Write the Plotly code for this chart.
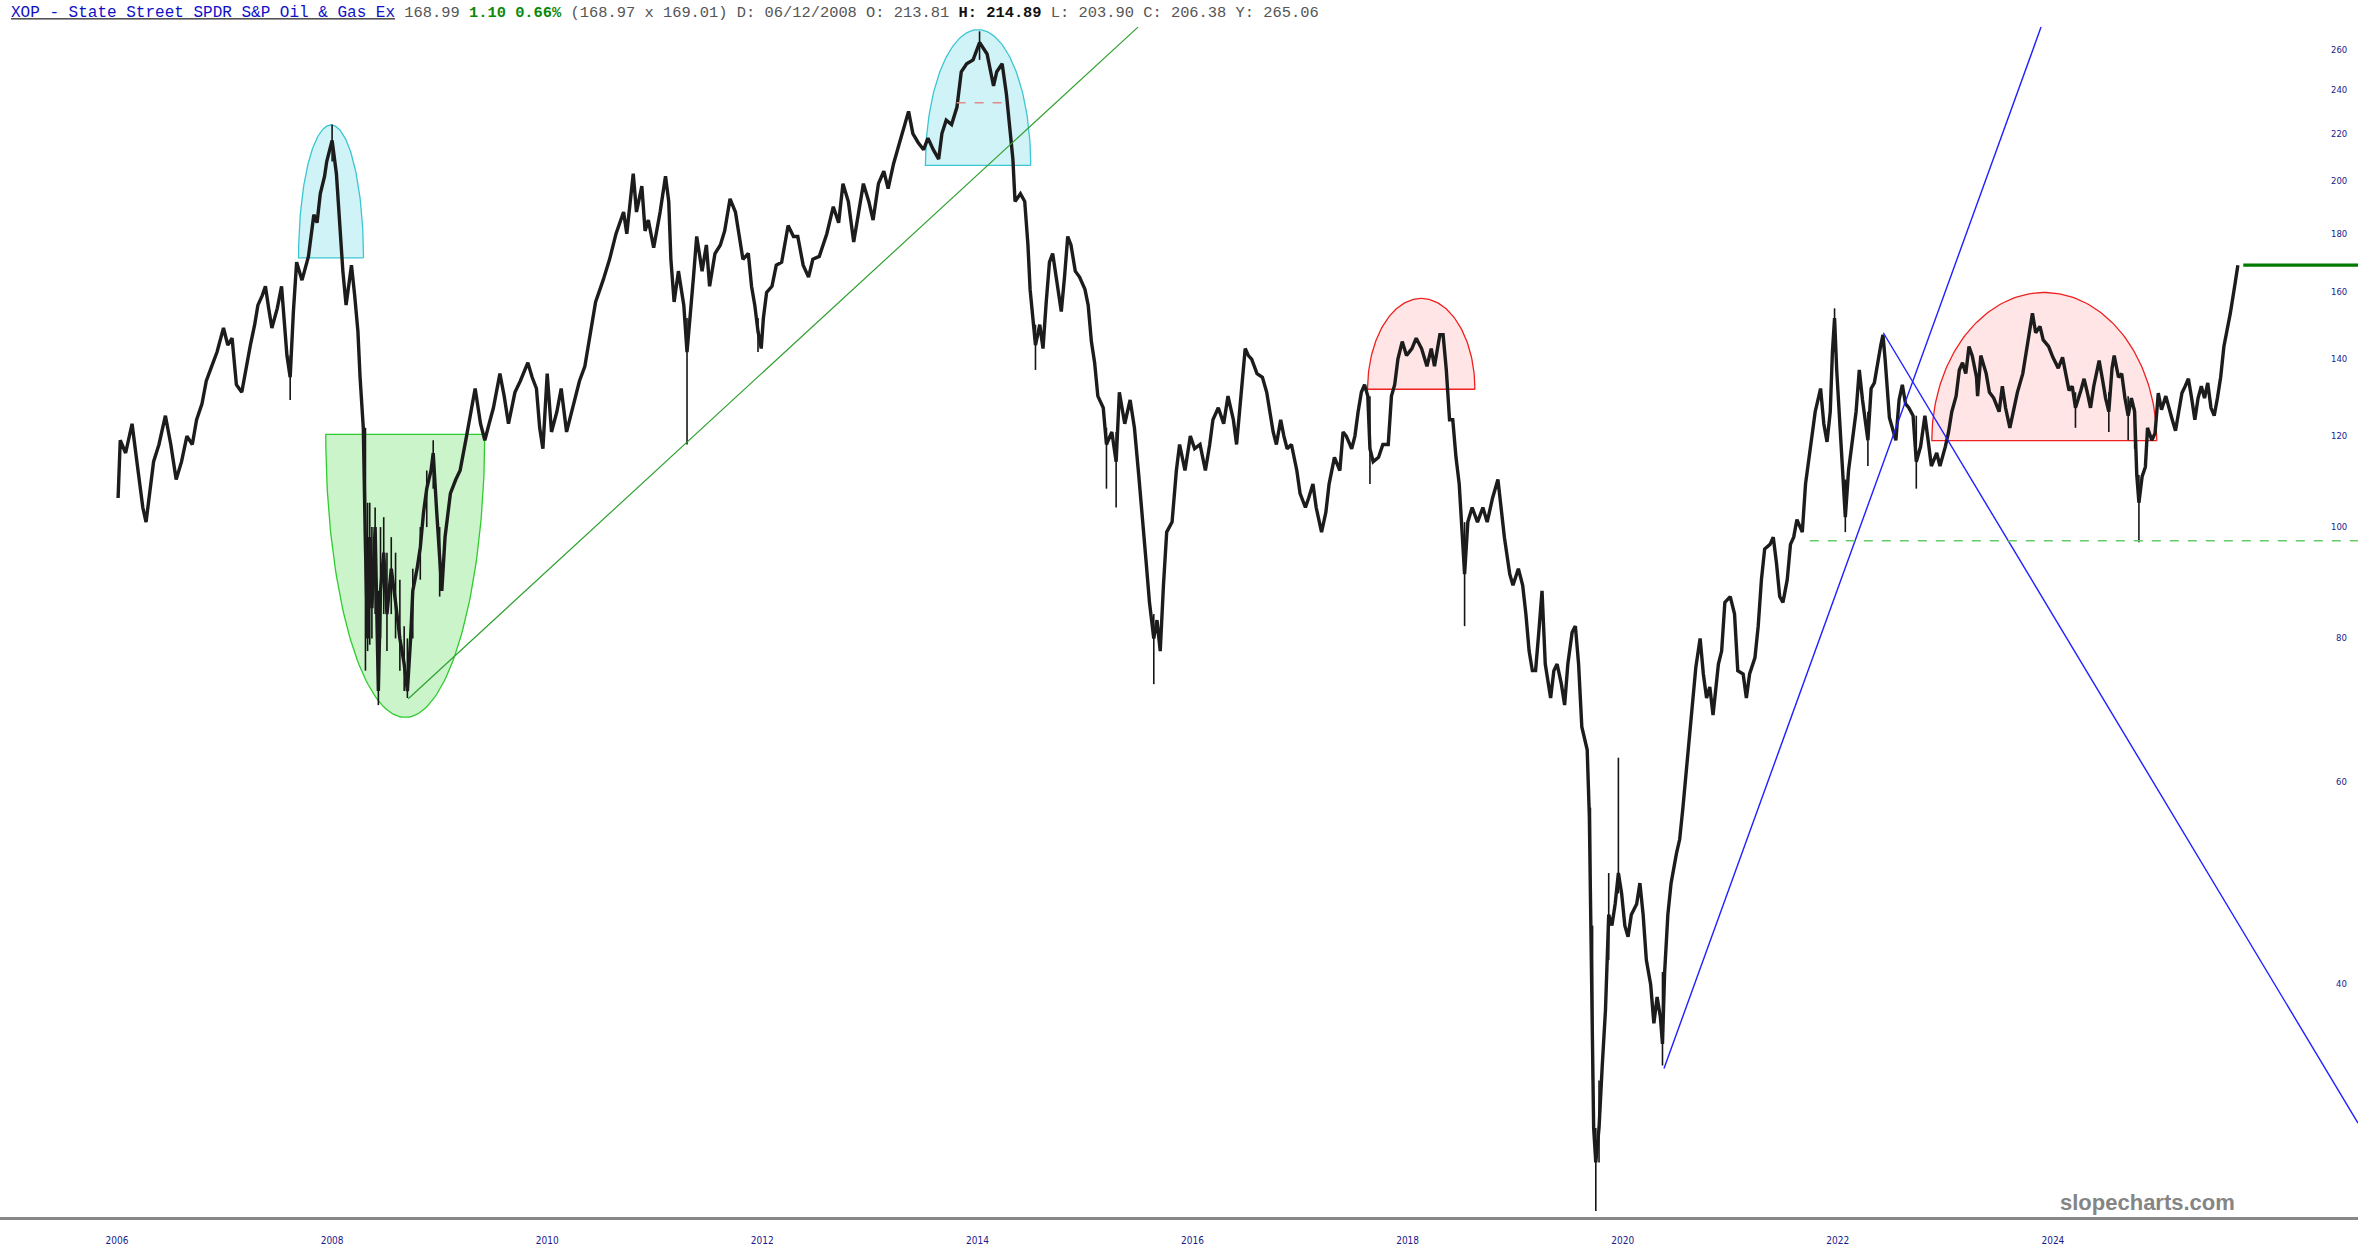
import numpy as np
import plotly.graph_objects as go

# ---------------- data (decimal year, price) ----------------
dec_year = [
 2006.46,2006.48,2006.53,2006.59,2006.64,2006.69,2006.72,2006.76,2006.79,2006.84,2006.90,2006.95,
 2007.00,2007.05,2007.10,2007.15,2007.19,2007.24,2007.28,2007.33,2007.38,2007.44,2007.48,2007.52,
 2007.56,2007.61,2007.65,2007.69,2007.73,2007.76,2007.80,2007.83,2007.86,2007.89,2007.94,2007.98,
 2008.03,2008.06,2008.09,2008.12,2008.17,2008.23,2008.28,2008.31,2008.34,2008.38,2008.40,2008.45,
 2008.49,2008.52,2008.55,2008.58,2008.63,2008.66,2008.69,2008.71,2008.74,2008.76,2008.78,2008.80,
 2008.82,2008.85,2008.88,2008.90,2008.93,2008.96,2009.00,2009.04,2009.08,2009.12,2009.15,2009.18,
 2009.20,2009.24,2009.27,2009.30,2009.33,2009.37,2009.39,2009.42,2009.45,2009.47,2009.50,2009.55,
 2009.60,2009.64,2009.70,2009.74,2009.78,2009.83,2009.87,2009.91,2009.95,2010.01,2010.05,2010.09,
 2010.15,2010.20,2010.27,2010.31,2010.35,2010.38,2010.41,2010.45,2010.49,2010.54,2010.58,2010.63,
 2010.69,2010.75,2010.80,2010.86,2010.90,2010.97,2011.03,2011.09,2011.16,2011.19,2011.25,2011.28,
 2011.33,2011.36,2011.39,2011.44,2011.50,2011.55,2011.58,2011.60,2011.63,2011.67,2011.72,2011.75,
 2011.78,2011.81,2011.84,2011.89,2011.93,2011.96,2012.01,2012.06,2012.10,2012.15,2012.20,2012.23,
 2012.27,2012.32,2012.35,2012.38,2012.41,2012.44,2012.46,2012.49,2012.54,2012.58,2012.63,2012.69,
 2012.74,2012.78,2012.83,2012.88,2012.92,2012.98,2013.05,2013.11,2013.16,2013.20,2013.25,2013.30,
 2013.34,2013.39,2013.44,2013.48,2013.53,2013.58,2013.62,2013.67,2013.72,2013.76,2013.81,2013.85,
 2013.90,2013.95,2013.99,2014.04,2014.09,2014.12,2014.16,2014.21,2014.26,2014.30,2014.35,2014.41,
 2014.47,2014.54,2014.60,2014.63,2014.68,2014.72,2014.75,2014.78,2014.80,2014.85,2014.89,2014.92,
 2014.94,2014.97,2014.99,2015.03,2015.06,2015.09,2015.12,2015.15,2015.20,2015.23,2015.26,2015.29,
 2015.32,2015.36,2015.40,2015.45,2015.48,2015.51,2015.54,2015.57,2015.62,2015.65,2015.70,2015.74,
 2015.77,2015.82,2015.87,2015.91,2015.95,2015.98,2016.02,2016.05,2016.09,2016.12,2016.15,2016.18,
 2016.21,2016.26,2016.30,2016.33,2016.38,2016.43,2016.47,2016.52,2016.57,2016.61,2016.64,2016.69,
 2016.74,2016.78,2016.83,2016.86,2016.89,2016.91,2016.94,2016.97,2017.00,2017.05,2017.10,2017.14,
 2017.17,2017.20,2017.23,2017.27,2017.30,2017.33,2017.37,2017.42,2017.45,2017.50,2017.53,2017.57,
 2017.60,2017.65,2017.69,2017.72,2017.77,2017.82,2017.85,2017.88,2017.93,2017.96,2017.99,2018.02,
 2018.05,2018.08,2018.10,2018.13,2018.18,2018.22,2018.27,2018.30,2018.33,2018.36,2018.40,2018.44,
 2018.49,2018.53,2018.58,2018.63,2018.67,2018.70,2018.75,2018.78,2018.81,2018.84,2018.87,2018.90,
 2018.93,2018.96,2018.98,2019.01,2019.05,2019.10,2019.15,2019.19,2019.24,2019.29,2019.32,2019.35,
 2019.40,2019.43,2019.48,2019.52,2019.55,2019.58,2019.61,2019.64,2019.67,2019.70,2019.73,2019.78,
 2019.81,2019.84,2019.88,2019.91,2019.94,2019.98,2020.01,2020.04,2020.07,2020.12,2020.14,2020.15,
 2020.17,2020.18,2020.20,2020.23,2020.26,2020.29,2020.32,2020.35,2020.38,2020.41,2020.44,2020.47,
 2020.50,2020.53,2020.58,2020.61,2020.64,2020.67,2020.71,2020.74,2020.77,2020.80,2020.82,2020.84,
 2020.87,2020.90,2020.95,2020.98,2021.01,2021.04,2021.07,2021.10,2021.13,2021.17,2021.20,2021.23,
 2021.26,2021.29,2021.34,2021.37,2021.40,2021.45,2021.49,2021.52,2021.57,2021.60,2021.63,2021.68,
 2021.71,2021.74,2021.77,2021.82,2021.85,2021.88,2021.91,2021.94,2021.98,2022.01,2022.04,2022.07,
 2022.12,2022.15,2022.18,2022.21,2022.24,2022.29,2022.32,2022.35,2022.38,2022.40,2022.42,2022.44,
 2022.48,2022.51,2022.52,2022.55,2022.59,2022.62,2022.65,2022.68,2022.73,2022.76,2022.79,2022.82,
 2022.85,2022.87,2022.89,2022.93,2022.96,2022.99,2023.02,2023.05,2023.08,2023.11,2023.15,2023.18,
 2023.22,2023.26,2023.29,2023.32,2023.37,2023.40,2023.45,2023.48,2023.51,2023.55,2023.58,2023.61,
 2023.64,2023.67,2023.70,2023.74,2023.75,2023.78,2023.83,2023.86,2023.90,2023.95,2023.98,2024.01,
 2024.05,2024.08,2024.12,2024.17,2024.21,2024.25,2024.26,2024.29,2024.33,2024.36,2024.41,2024.45,
 2024.50,2024.54,2024.57,2024.60,2024.63,2024.66,2024.71,2024.74,2024.77,2024.80,2024.83,2024.88,
 2024.91,2024.94,2024.97,2025.00,2025.02,2025.06,2025.09,2025.12,2025.15,2025.18,2025.21,2025.23,
 2025.25,2025.28,2025.31,2025.33,2025.37,2025.40,2025.43,2025.46,2025.50,2025.53,2025.56,2025.59,
 2025.62,2025.65,2025.68,2025.71,2025.74,2025.77,2025.80,2025.83,2025.86,2025.89,2025.92,2025.95,
 2025.98,2026.01,2026.04,2026.07,2026.10,2026.14,2026.17,
]
close = [
 106,119,116,123,113,104,101,108,114,118,125,118,
 110,114,120,118,124,128,134,138,142,149,144,146,
 133,131,138,144,150,156,159,162,155,149,155,162,
 141,135,154,170,164,172,187,184,195,202,208,217,
 203,184,167,156,169,159,148,135,122,96,80,98,
 85,100,72,88,95,84,92,86,80,76,72,80,
 88,92,96,103,108,112,116,104,93,88,98,107,
 110,112,120,126,132,123,119,123,127,136,130,123,
 131,134,139,135,132,122,117,136,121,126,132,121,
 127,134,138,149,157,164,171,180,188,180,203,188,
 198,181,185,175,188,202,192,171,157,167,156,142,
 152,165,179,167,176,162,173,176,181,193,188,180,
 171,173,162,156,148,143,152,160,162,169,170,183,
 179,179,169,165,171,172,180,190,184,199,192,177,
 187,199,192,185,199,204,197,207,215,222,230,220,
 216,213,218,213,209,220,226,224,232,249,253,255,
 264,258,242,249,253,238,224,209,192,195,192,176,
 161,150,144,150,143,157,170,173,160,154,165,179,
 176,167,165,161,156,145,139,130,127,118,121,114,
 131,123,129,122,111,102,93,86,80,83,78,89,
 99,101,112,118,112,120,117,118,112,118,124,127,
 123,130,124,118,126,133,143,141,140,136,135,131,
 126,121,118,124,120,117,118,112,107,104,106,109,
 104,99,103,109,115,112,121,120,117,120,126,131,
 133,130,117,114,115,118,118,130,133,140,145,141,
 143,146,143,138,143,138,147,147,137,124,124,115,
 109,98,91,101,104,101,104,101,106,110,103,98,
 91,89,92,89,84,78,75,75,81,88,76,71,
 75,76,73,70,76,81,82,76,67,64,56,49,
 36,30,28,30,34,38,46,45,47,50,48,45,
 44,46,47,49,46,42,40,37,39,37.5,35.5,41,
 46,49,52,53.5,57,61,66,71,75.5,80,74.5,71,
 72.6,68.6,76,78,86,87,84,75,74.5,71,74.5,77,
 82,90,95.7,96.6,98,93,87,86,90,96.6,98,101.5,
 99,109,114,120,126,132,123,118.6,126,142,152,137,
 118,108,102,112,120,126,137,129,119,132,133.5,139,
 144,147,140,124.5,122,119,129,133,128,127,125,114,
 117.5,125,119,113,116,113,117.5,121,126,130,137,139,
 136,143.6,141,135,130,141,136,131,129.5,126,132.6,127,
 122,126,131,136,143.6,151,153.5,147.6,149.5,145.5,143.6,140.5,
 137.5,140.5,136,131.5,132.6,127,131.5,134.6,131,127,132.6,139.6,
 134.6,129.5,126,137.5,141,135,136,129.5,125,129.5,126,111,
 105,110.7,112.8,122,119,120.7,130.8,126.5,130,126.5,124,121.3,
 125.8,130.8,132.6,134.6,129.5,124,129.5,132.6,129.5,133.5,127,125,
 129.5,135,143.6,148.4,153.5,162,169,
]
# intraday ranges / spikes (wicks) visible in the reference
wick_year = [2008.06, 2008.45, 2008.76, 2008.78, 2008.80, 2008.82, 2008.85, 2008.88, 2008.90,
             2008.93, 2008.96, 2009.00, 2009.04, 2009.08, 2009.12, 2009.15, 2009.20, 2009.27,
             2009.33, 2009.39, 2009.45, 2011.75, 2012.41, 2014.47, 2014.99, 2015.65, 2015.74,
             2016.09, 2018.10, 2018.98, 2020.15, 2020.17, 2020.20, 2020.23, 2020.32, 2020.41,
             2020.82, 2022.42, 2022.52, 2022.73, 2023.18, 2024.66, 2024.97, 2025.15, 2025.21,
             2025.25]
wick_low = [129, 208, 75, 78, 79, 80, 84, 70, 80,
            84, 78, 84, 80, 75, 72, 71, 80, 90,
            100, 108, 87, 118, 142, 255, 137, 108, 104,
            73, 109, 82, 47, 33, 25.4, 28, 42, 48,
            34, 142, 99, 113, 108, 122, 121, 119, 117,
            97]
wick_high = [141, 224, 122, 105, 105, 100, 104, 88, 100,
             102, 95, 98, 95, 90, 82, 80, 92, 100,
             112, 119, 100, 152, 152, 270, 150, 122, 121,
             84, 130, 101, 57, 45, 30, 33, 50, 63,
             41, 155, 110, 126, 125, 131, 131, 130, 127,
             111]

year_labels = [2006, 2008, 2010, 2012, 2014, 2016, 2018, 2020, 2022, 2024]
price_ticks = [40, 60, 80, 100, 120, 140, 160, 180, 200, 220, 240, 260]
last_price = 168.99
support_level = 97.3

# drawings: (center year, half width in years, base price, apex price)
cyan_2008 = (2008.44, 0.302, 171.5, 223.8)
green_bowl = (2009.13, 0.739, 120.4, 68.3)
cyan_2014 = (2014.456, 0.49, 206.4, 270.9)
red_2018 = (2018.577, 0.499, 131.8, 158.1)
red_2024 = (2024.37, 1.046, 118.9, 160.0)
trend_green = [(2009.158, 70.9), (2015.943, 272.3)]
trend_blue_up = [(2020.834, 33.8), (2024.34, 272.3)]
trend_blue_down = [(2022.873, 147.6), (2027.287, 30.3)]
dash_red_2014 = [(2014.257, 234.0), (2014.722, 234.0)]

X_RANGE = [2005.362, 2027.287]
Y_RANGE = [25.1, 272.9]
W, H = 2358, 1260


def half_ellipse(spec, n=120):
    cx, a, base, apex = spec
    lb, la = np.log10(base), np.log10(apex)
    th = np.linspace(0, np.pi, n)
    xs = cx + a * np.cos(th)
    ys = 10 ** (lb + (la - lb) * np.sin(th))
    xs = np.append(xs, [cx - a, cx + a])
    ys = np.append(ys, [base, base])
    return xs, ys


fig = go.Figure()


def add_shape(spec, fill, line):
    xs, ys = half_ellipse(spec)
    fig.add_trace(go.Scatter(x=xs, y=ys, mode="lines", fill="toself", fillcolor=fill,
                             line=dict(color=line, width=1.3), hoverinfo="skip", showlegend=False))


add_shape(cyan_2008, "rgba(120,220,232,0.35)", "#3cc6d2")
add_shape(green_bowl, "rgba(110,225,110,0.36)", "#2ecc2e")
add_shape(cyan_2014, "rgba(120,220,232,0.35)", "#3cc6d2")
add_shape(red_2018, "rgba(255,150,150,0.25)", "#ee2020")
add_shape(red_2024, "rgba(255,150,150,0.25)", "#ee2020")

# wicks
wx, wy = [], []
for t, lo, hi in zip(wick_year, wick_low, wick_high):
    wx += [t, t, None]
    wy += [lo, hi, None]
fig.add_trace(go.Scatter(x=wx, y=wy, mode="lines", line=dict(color="#151515", width=1.6),
                         hoverinfo="skip", showlegend=False))
# price
fig.add_trace(go.Scatter(x=dec_year, y=close, mode="lines",
                         line=dict(color="#1c1c1c", width=3.4), showlegend=False))


def add_line(pts, color, width=1.2, dash=None):
    fig.add_trace(go.Scatter(x=[p[0] for p in pts], y=[p[1] for p in pts], mode="lines",
                             line=dict(color=color, width=width, dash=dash),
                             hoverinfo="skip", showlegend=False))


add_line(trend_green, "#2ea02e", 1.2)
add_line(trend_blue_up, "#1f1fff", 1.4)
add_line(trend_blue_down, "#1f1fff", 1.4)
add_line(dash_red_2014, "#e08a8a", 1.6, "dash")
add_line([(2022.19, support_level), (X_RANGE[1], support_level)], "#66cc66", 1.3, "dash")
add_line([(2026.22, last_price), (X_RANGE[1], last_price)], "#007a00", 3.2)

fig.update_layout(
    width=W, height=H,
    margin=dict(l=0, r=0, t=26, b=43),
    paper_bgcolor="white", plot_bgcolor="white",
    showlegend=False,
    xaxis=dict(range=X_RANGE, tickvals=[y + 0.45 for y in year_labels],
               ticktext=[str(y) for y in year_labels], showgrid=False, zeroline=False,
               showline=True, linecolor="#888888", linewidth=3, ticks="",
               tickfont=dict(family="Liberation Sans Narrow, DejaVu Sans Condensed, sans-serif",
                             size=10, color="#1a1a8c"),
               ticklabelstandoff=12),
    yaxis=dict(type="log", range=[np.log10(Y_RANGE[0]), np.log10(Y_RANGE[1])],
               side="right", showticklabels=False, showgrid=False, zeroline=False,
               showline=False, ticks=""),
)

# price scale labels on the right, inside the plot
for v in price_ticks:
    fig.add_annotation(xref="paper", yref="y", x=2349 / W, y=np.log10(v), xanchor="right",
                       yanchor="middle", text=str(v), showarrow=False,
                       font=dict(family="DejaVu Sans", size=8.5, color="#1a1a8c"))

title_txt = "XOP - State Street SPDR S&amp;P Oil &amp; Gas Ex"
header = ("<u><span style='color:#1010c8;font-size:16px'>" + title_txt + "</span></u>"
          "<span style='color:#555555'> 168.99 </span>"
          "<b><span style='color:#0a8a0a'>1.10 0.66%</span></b>"
          "<span style='color:#555555'> (168.97 x 169.01) D: 06/12/2008 O: 213.81 </span>"
          "<b><span style='color:#111111'>H: 214.89</span></b>"
          "<span style='color:#555555'> L: 203.90 C: 206.38 Y: 265.06</span>")
fig.add_annotation(xref="paper", yref="paper", x=9 / W, y=1 + 13 / 1191, xanchor="left",
                   yanchor="middle", text=header, showarrow=False,
                   font=dict(family="Liberation Mono, DejaVu Sans Mono, monospace", size=15.4,
                             color="#555555"))
# watermark
wm_price = 40 * np.exp((985 - 1203) / 499.5)
fig.add_annotation(xref="paper", yref="y", x=2147 / W, y=np.log10(wm_price),
                   xanchor="center", yanchor="middle", text="<b>slopecharts.com</b>",
                   showarrow=False,
                   font=dict(family="Liberation Sans, Arial, sans-serif", size=22, color="#858585"))

fig.write_html("out.html", config={"displayModeBar": False},
               post_script="document.body.style.margin='0px';")
